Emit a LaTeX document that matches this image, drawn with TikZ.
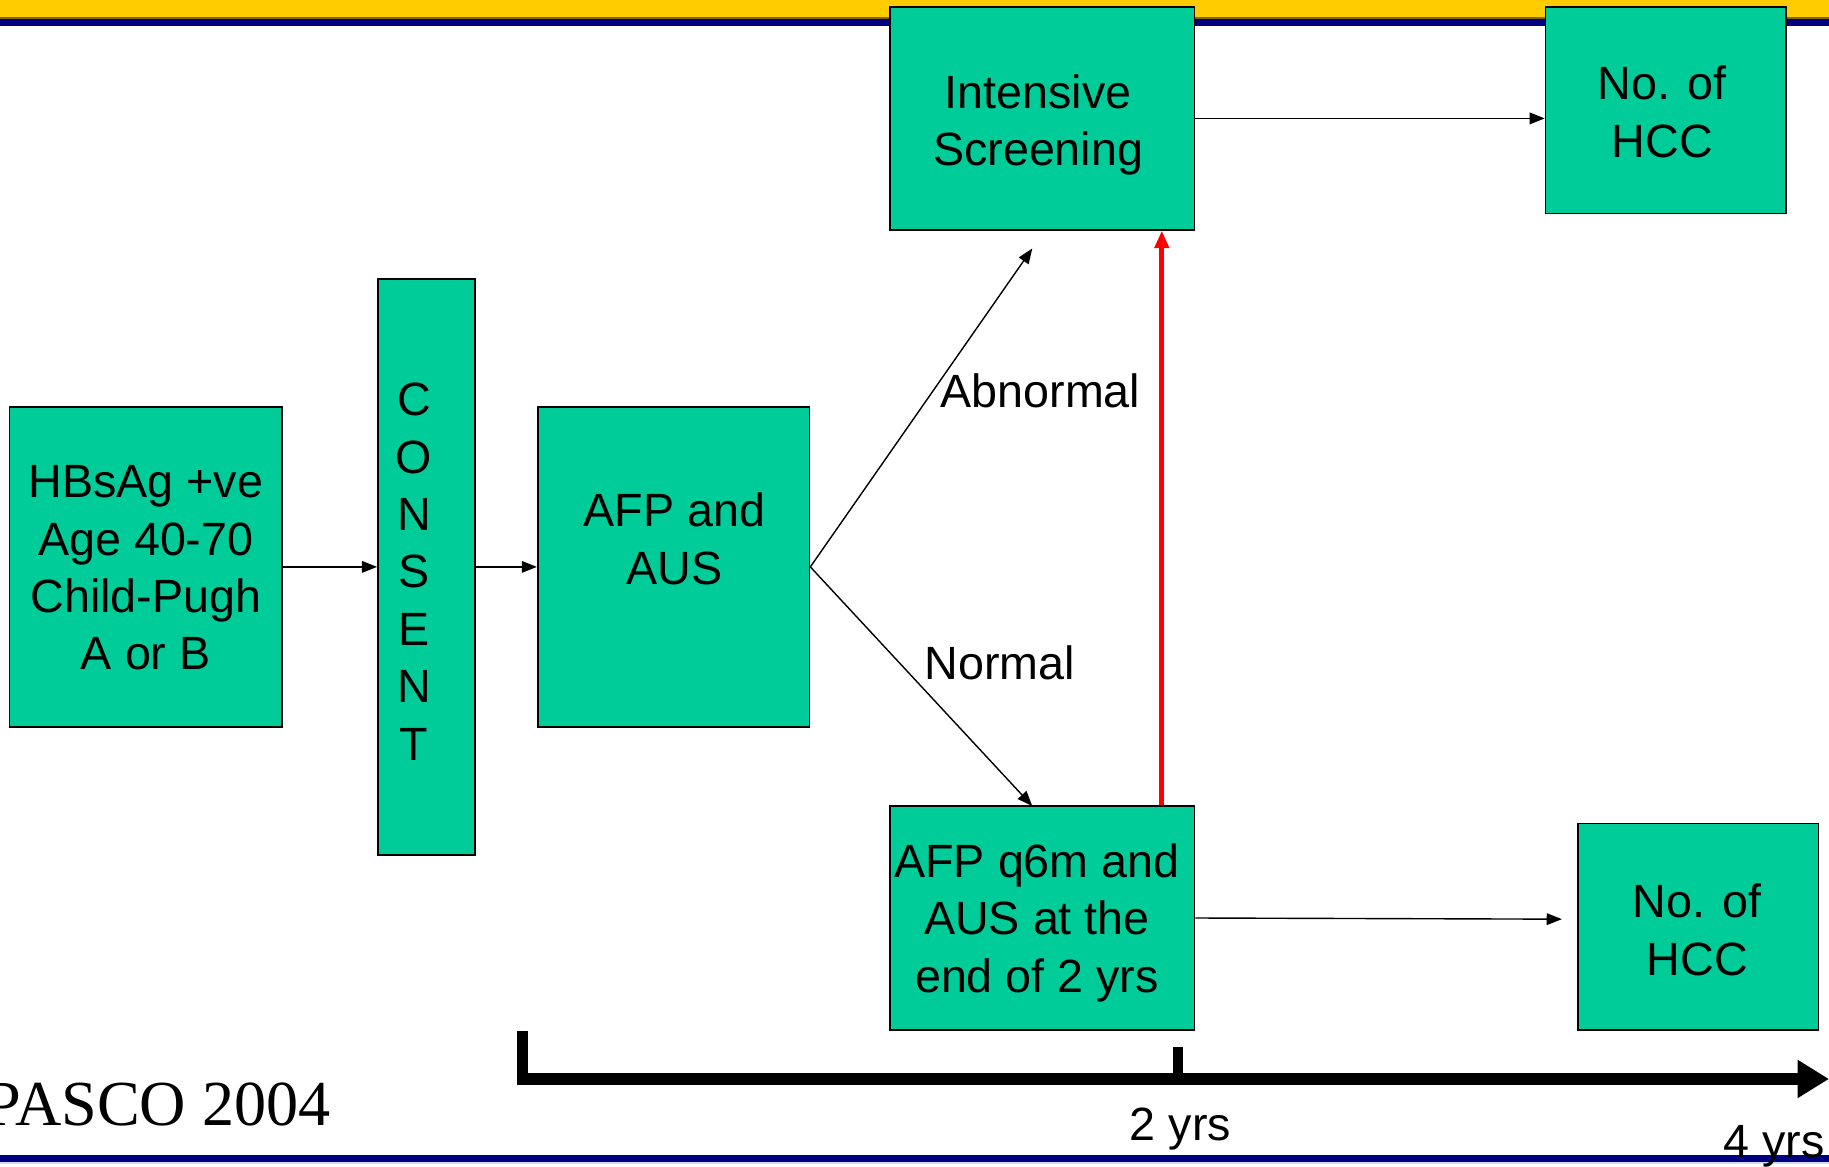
\documentclass[tikz,border=0pt]{standalone}
\usepackage{fontspec}
\setmainfont{Liberation Sans}
\newfontfamily\pascoserif{Liberation Serif}
\usetikzlibrary{arrows.meta}
\definecolor{boxgreen}{RGB}{0,204,153}
\definecolor{bandyellow}{RGB}{255,204,0}
\definecolor{bandnavy}{RGB}{0,0,128}
\begin{document}
\begin{tikzpicture}[x=0.5pt,y=-0.5pt,
  box/.style={draw=black, fill=boxgreen, line width=0.7pt, inner sep=0pt},
  txt/.style={inner sep=0pt, align=center, font=\fontsize{20}{24.6}\selectfont},
  conn/.style={-{Triangle[length=6.5pt,width=5pt]}, line width=0.6pt},
  redconn/.style={-{Triangle[length=7.5pt,width=6pt]}, line width=2pt, red},
  axis/.style={line width=5.3pt}
]
\useasboundingbox (0,0) rectangle (1568,1000);
% bands
\fill[bandyellow] (0,0) rectangle (1568,15.4);
\fill[bandnavy] (0,15.4) rectangle (1568,22.3);
\draw[black!50!bandyellow, line width=0.5pt] (0,15.4) -- (1568,15.4);
\fill[bandnavy] (0,990) rectangle (1568,996);
\fill[blue!15] (0,996) rectangle (1568,998);

% boxes
\node[box, minimum width=117pt, minimum height=137pt] (hbs) at (125,486) {};
\node[box, minimum width=41.5pt, minimum height=247pt] (cons) at (365.5,486) {};
\node[box, minimum width=116.5pt, minimum height=137pt] (afp) at (577.5,486) {};
\node[box, minimum width=130.5pt, minimum height=95.5pt] (ints) at (893.5,101.5) {};
\node[box, minimum width=103pt, minimum height=88.5pt] (hcc1) at (1428,94.5) {};
\node[box, minimum width=130.5pt, minimum height=96pt] (q6m) at (893.5,787) {};
\node[box, minimum width=103pt, minimum height=88.5pt] (hcc2) at (1456,794.5) {};

% texts
\node[txt] (hbst) at (125,487) {HBsAg +ve\\Age 40-70\\Child-Pugh\\A or B};
\node[txt] (const) at (355,490) {C\\O\\N\\S\\E\\N\\T};
\node[txt] (afpt) at (578,462) {AFP and\\AUS};
\node[txt] (intst) at (890,107) {Intensive\\Screening};
\node[txt] (hcc1t) at (1425,96) {No. of\\HCC};
\node[txt] (q6mt) at (889,791) {AFP q6m and\\AUS at the\\end of 2 yrs};
\node[txt] (hcc2t) at (1455,797) {No. of\\HCC};
\node[txt] (abn) at (892,335) {Abnormal};
\node[txt] (norm) at (857,568) {Normal};

% connectors
\coordinate (abnEnd) at (885,213);
\coordinate (normEnd) at (885,691);
\coordinate (redx) at (996,0);
\coordinate (q6mEnd) at (1339,788);
\draw[conn] (hbs.east) -- (cons.west);
\draw[conn] (cons.east) -- (afp.west);
\draw[conn] (afp.east) -- (abnEnd);
\draw[conn] (afp.east) -- (normEnd);
\draw[conn] (ints.east) -- (ints.east -| hcc1.west);
\draw[conn] (q6m.east) -- (q6mEnd);
\draw[redconn] (q6m.north -| redx) -- (ints.south -| redx);

% timeline
\coordinate (t0) at (444,925);
\coordinate (tEnd) at (1568,925);
\coordinate (tk0a) at (448,884);
\coordinate (tk0b) at (448,930);
\coordinate (tk1a) at (1010,898);
\coordinate (tk1b) at (1010,925);
\draw[axis, -{Triangle[length=13.5pt,width=15.5pt]}] (t0) -- (tEnd);
\draw[line width=5pt] (tk0a) -- (tk0b);
\draw[line width=4.5pt] (tk1a) -- (tk1b);
\node[txt, anchor=base] (yr2) at (1012,978) {2 yrs};
\node[txt, anchor=base] (yr4) at (1521,992) {4 yrs};
\node[inner sep=0pt, anchor=base west, font=\pascoserif\fontsize{27.5}{30}\selectfont] (pasco) at (-13,965) {PASCO 2004};
\end{tikzpicture}
\end{document}
